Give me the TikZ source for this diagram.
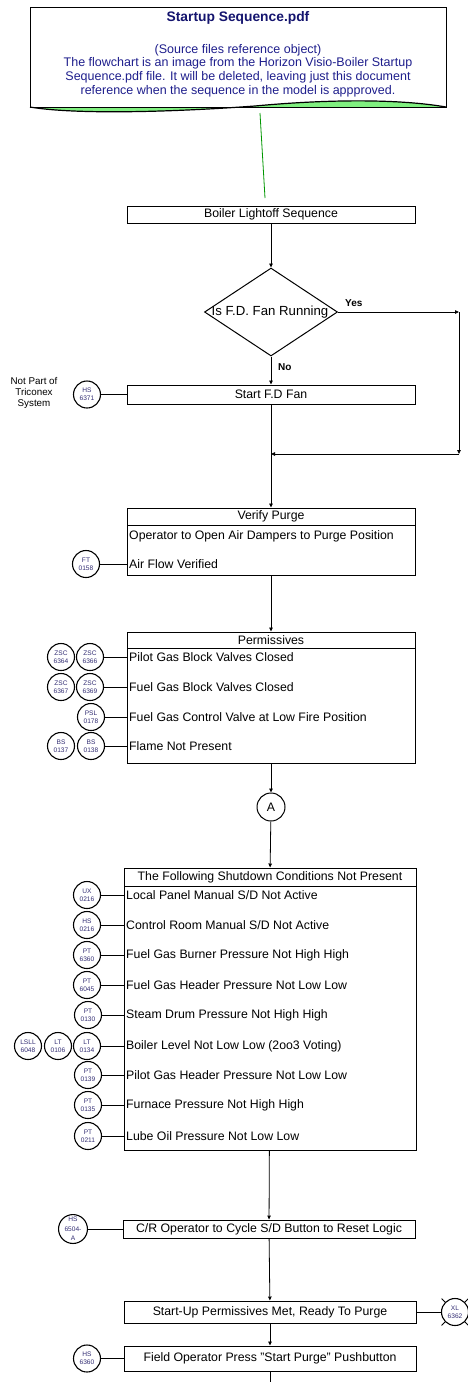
\documentclass[tikz,border=0pt]{standalone}
\usepackage{fontspec}
\setmainfont{Liberation Sans}
\usetikzlibrary{shapes.geometric,arrows.meta}
\definecolor{navy}{RGB}{30,30,140}
\definecolor{titlenavy}{RGB}{20,20,110}
\definecolor{tagc}{RGB}{50,45,115}
\definecolor{wavegreen}{RGB}{128,240,128}
\definecolor{linkgreen}{RGB}{0,150,0}
\begin{document}
\begin{tikzpicture}[x=1pt,y=-1pt,
 box/.style={draw,line width=1pt,inner sep=0pt,font=\fontsize{12.3}{14}\selectfont},
 rowtext/.style={anchor=west,inner sep=0pt,font=\fontsize{12.3}{14}\selectfont},
 tag/.style={circle,draw,line width=1.1pt,minimum size=27pt,inner sep=0pt,align=center,text=tagc,font=\fontsize{6.6}{8.4}\selectfont},
 conn/.style={line width=0.8pt},
 arr/.style={conn,-{Triangle[length=4pt,width=3.5pt]}},
]
\useasboundingbox (0,0) rectangle (467,1382);

% note box
\fill[wavegreen] (30,107) .. controls (70,114) and (160,113) .. (255,106) .. controls (330,99) and (400,99) .. (446,107) -- cycle;
\node[draw,line width=1pt,minimum width=416pt,minimum height=100pt,inner sep=0pt] (note) at (238,57) {};
\draw[line width=1.2pt] (30,107) .. controls (70,114) and (160,113) .. (255,106) .. controls (330,99) and (400,99) .. (446,107);
\node[font=\bfseries\fontsize{13.8}{16}\selectfont,text=titlenavy] (title) at (238,18) {Startup Sequence.pdf};
\node[align=center,text=navy,font=\fontsize{12.5}{13.7}\selectfont] (notebody) at (238,70.5) {(Source files reference object)\\The flowchart is an image from the Horizon Visio-Boiler Startup\\Sequence.pdf file. It will be deleted, leaving just this document\\reference when the sequence in the model is appproved.};
\coordinate (g1) at (260,113);
\coordinate (g2) at (265,198);
\draw[linkgreen,line width=0.8pt] (g1) -- (g2);

% lightoff and decision
\node[box,minimum width=288pt,minimum height=17pt] (lightoff) at (271,214.5) {Boiler Lightoff Sequence};
\node[diamond,draw,line width=1pt,minimum width=133pt,minimum height=88pt,inner sep=0pt] (dia) at (271,312) {};
\node[font=\fontsize{13.2}{15}\selectfont] (diatext) at (270,312) {Is F.D. Fan Running};
\draw[arr] (lightoff) -- (dia);
\coordinate (yesR) at (459,312);
\coordinate (yesB) at (459,454);
\coordinate (merge) at (271,454);
\draw[arr] (dia.east) -- (yesR);
\draw[arr] (yesR) -- (yesB);
\draw[arr] (yesB) -- (merge);
\node[font=\bfseries\fontsize{10}{11}\selectfont,anchor=west,inner sep=0pt] (yes) at (345,303) {Yes};
\node[font=\bfseries\fontsize{10}{11}\selectfont,anchor=west,inner sep=0pt] (no) at (278,367) {No};

% start fan
\node[box,minimum width=288pt,minimum height=19pt] (start) at (271,394.5) {Start F.D Fan};
\draw[arr] (dia) -- (start);
\node[tag] (hs6371) at (87,394.5) {HS\\6371};
\draw[conn] (hs6371) -- (start);
\node[align=center,font=\fontsize{9.8}{11}\selectfont] (notpart) at (34,393) {Not Part of\\Triconex\\System};
\draw[conn] (start) -- (merge);

% verify purge
\node[box,minimum width=288pt,minimum height=17pt] (verifyH) at (271,516.5) {Verify Purge};
\draw[arr] (merge) -- (verifyH);
\node[box,minimum width=288pt,minimum height=50pt] (verify) at (271,550) {};
\node[rowtext] (v1) at (129,536) {Operator to Open Air Dampers to Purge Position};
\node[rowtext] (v2) at (129,564) {Air Flow Verified};
\node[tag] (ft0158) at (86,564) {FT\\0158};
\draw[conn] (ft0158) -- (ft0158 -| verify.west);

% permissives
\node[box,minimum width=288pt,minimum height=16pt] (permH) at (271,640) {Permissives};
\draw[arr] (verify) -- (permH);
\node[box,minimum width=288pt,minimum height=115pt] (perm) at (271,705.5) {};
\node[rowtext] (p1) at (129,657) {Pilot Gas Block Valves Closed};
\node[rowtext] (p2) at (129,687) {Fuel Gas Block Valves Closed};
\node[rowtext] (p3) at (129,717) {Fuel Gas Control Valve at Low Fire Position};
\node[rowtext] (p4) at (129,746) {Flame Not Present};
\node[tag] (zsc6364) at (61,657) {ZSC\\6364};
\node[tag] (zsc6366) at (90,657) {ZSC\\6366};
\node[tag] (zsc6367) at (61,687) {ZSC\\6367};
\node[tag] (zsc6369) at (90,687) {ZSC\\6369};
\node[tag] (psl0178) at (91,717) {PSL\\0178};
\node[tag] (bs0137) at (61,746) {BS\\0137};
\node[tag] (bs0138) at (91,746) {BS\\0138};
\draw[conn] (zsc6366) -- (zsc6366 -| perm.west);
\draw[conn] (zsc6369) -- (zsc6369 -| perm.west);
\draw[conn] (psl0178) -- (psl0178 -| perm.west);
\draw[conn] (bs0138) -- (bs0138 -| perm.west);

% connector A
\node[circle,draw,line width=1pt,minimum size=28pt,inner sep=0pt,font=\fontsize{12.3}{14}\selectfont] (A) at (271,807) {A};
\draw[arr] (perm) -- (A);

% shutdown conditions
\node[box,minimum width=292pt,minimum height=18pt] (sdH) at (270,877) {The Following Shutdown Conditions Not Present};
\draw[arr] (A) -- (sdH);
\node[box,minimum width=292pt,minimum height=264pt] (sd) at (270,1018) {};
\node[rowtext] (s1) at (126,895) {Local Panel Manual S/D Not Active};
\node[rowtext] (s2) at (126,925) {Control Room Manual S/D Not Active};
\node[rowtext] (s3) at (126,955) {Fuel Gas Burner Pressure Not High High};
\node[rowtext] (s4) at (126,985) {Fuel Gas Header Pressure Not Low Low};
\node[rowtext] (s5) at (126,1015) {Steam Drum Pressure Not High High};
\node[rowtext] (s6) at (126,1046) {Boiler Level Not Low Low (2oo3 Voting)};
\node[rowtext] (s7) at (126,1075) {Pilot Gas Header Pressure Not Low Low};
\node[rowtext] (s8) at (126,1105) {Furnace Pressure Not High High};
\node[rowtext] (s9) at (126,1136) {Lube Oil Pressure Not Low Low};
\node[tag] (ux0216) at (87,895) {UX\\0216};
\node[tag] (hs0216) at (87,925) {HS\\0216};
\node[tag] (pt6360) at (87,955) {PT\\6360};
\node[tag] (pt6045) at (87,985) {PT\\6045};
\node[tag] (pt0130) at (88,1015) {PT\\0130};
\node[tag] (lsll6048) at (28,1046) {LSLL\\6048};
\node[tag] (lt0106) at (58,1046) {LT\\0106};
\node[tag] (lt0134) at (87,1046) {LT\\0134};
\node[tag] (pt0139) at (88,1075) {PT\\0139};
\node[tag] (pt0135) at (88,1105) {PT\\0135};
\node[tag] (pt0211) at (88,1136) {PT\\0211};
\foreach \t in {ux0216,hs0216,pt6360,pt6045,pt0130,lt0134,pt0139,pt0135,pt0211}
  \draw[conn] (\t) -- (\t -| sd.west);

% reset logic
\node[box,minimum width=292pt,minimum height=18pt] (cr) at (269,1229) {C/R Operator to Cycle S/D Button to Reset Logic};
\draw[arr] (sd) -- (cr);
\node[tag,font=\fontsize{6.6}{9.5}\selectfont] (hs6504) at (73,1229) {HS\\6504-\\A};
\draw[conn] (hs6504) -- (cr);

% ready to purge
\node[box,minimum width=292pt,minimum height=22pt] (startup) at (270,1312) {Start-Up Permissives Met, Ready To Purge};
\draw[arr] (cr) -- (startup);
\node[tag] (xl6362) at (455,1312) {XL\\6362};
\foreach \a in {45,135,225,315}
  \draw[conn] (xl6362.\a) -- ++(\a:5pt);
\draw[conn] (startup) -- (xl6362);

% start purge
\node[box,minimum width=292pt,minimum height=25pt] (field) at (270,1358.5) {Field Operator Press "Start Purge" Pushbutton};
\draw[arr] (startup) -- (field);
\node[tag] (hs6360) at (87,1358.5) {HS\\6360};
\draw[conn] (hs6360) -- (field);
\coordinate (bot) at (270,1382);
\draw[conn] (field) -- (bot);
\end{tikzpicture}
\end{document}
